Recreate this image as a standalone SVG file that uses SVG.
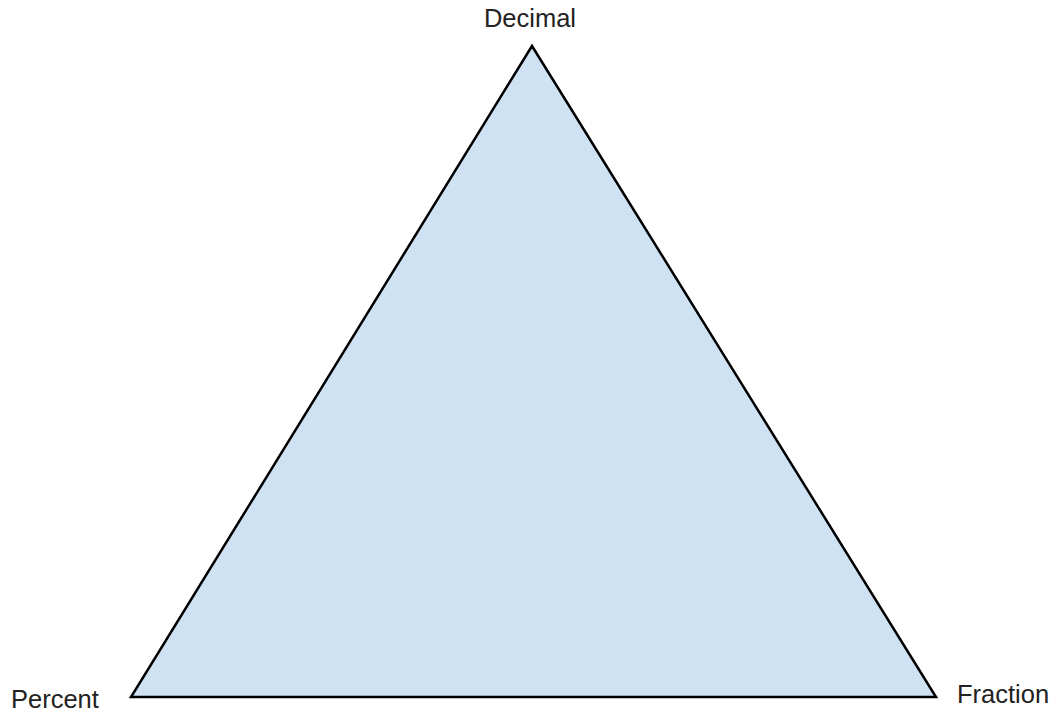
<svg xmlns="http://www.w3.org/2000/svg" width="1058" height="714" viewBox="0 0 1058 714">
<style>
.lbl{font-family:"Liberation Sans",Arial,sans-serif;font-size:25.5px;fill:#222}
</style>
<rect width="1058" height="714" fill="#fff"/>
<g id="triangle">
<polygon points="532,46 131,697 936,697" fill="#cfe2f3" stroke="#000" stroke-width="2.5" stroke-linejoin="miter"/>
</g>
<g id="connectors"></g>
<g id="decimal"><text class="lbl" x="530" y="27" text-anchor="middle">Decimal</text></g>
<g id="percent"><text class="lbl" x="11" y="708">Percent</text></g>
<g id="fraction"><text class="lbl" x="957" y="703">Fraction</text></g>
</svg>
